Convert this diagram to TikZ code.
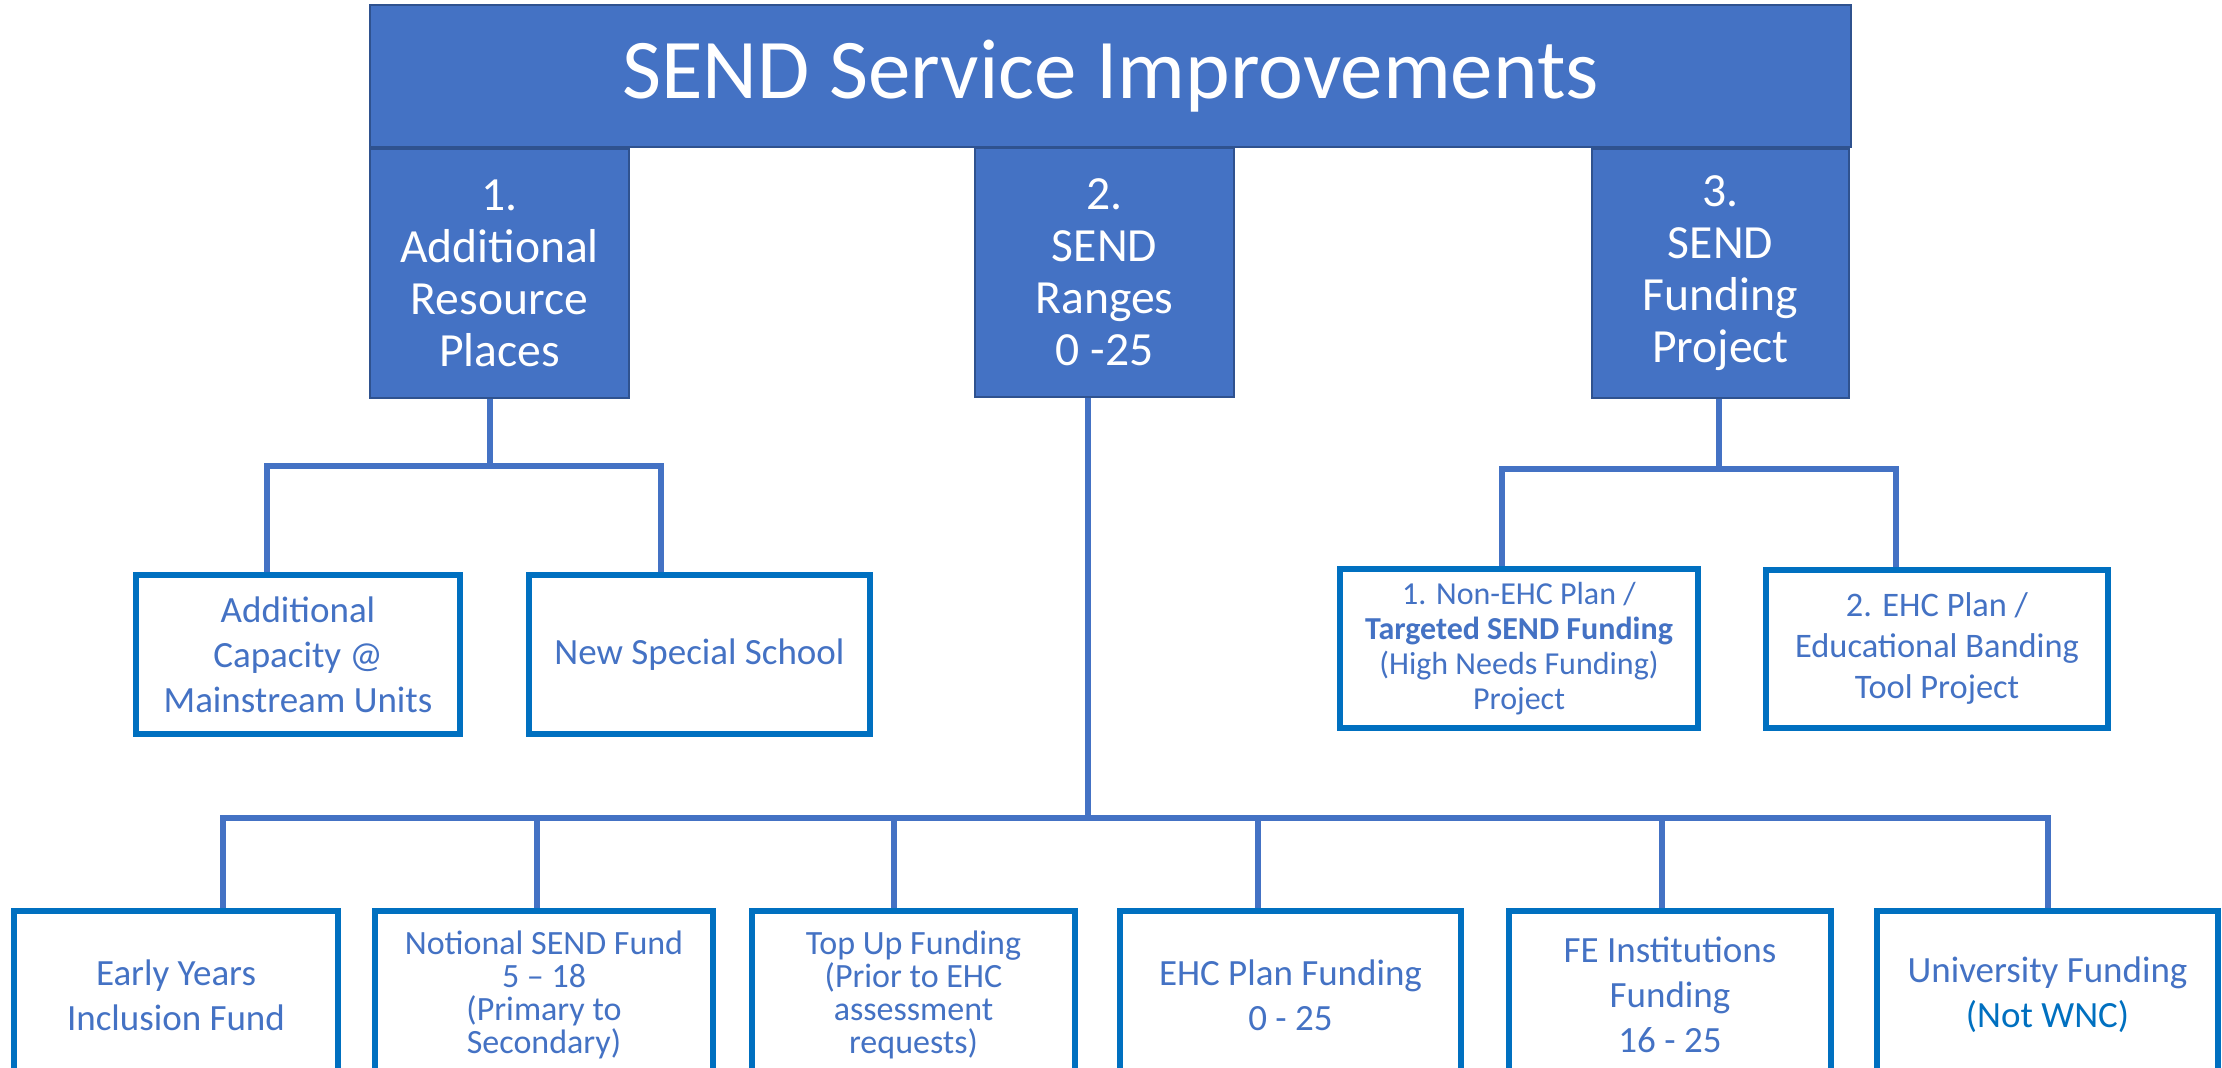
\documentclass[tikz,border=0pt]{standalone}
\usepackage{fontspec}
\setmainfont{Carlito}
\usetikzlibrary{backgrounds}
\definecolor{accent}{HTML}{4472C4}
\definecolor{accdark}{HTML}{2F528F}
\definecolor{boxblue}{HTML}{0070C0}
\begin{document}
\begin{tikzpicture}[x=0.5pt,y=-0.5pt,
  topbox/.style={draw=accdark, line width=1.2pt, fill=accent, text=white, align=center, inner sep=0pt},
  subbox/.style={draw=boxblue, line width=3pt, fill=white, text=accent, align=center, inner sep=0pt, line join=miter},
  conn/.style={draw=accent, line width=2.6pt},
  bigtxt/.style={font=\fontsize{23.8}{26}\selectfont},
  midtxt/.style={font=\fontsize{18.5}{22.5}\selectfont},
  tighttxt/.style={font=\fontsize{17}{16.5}\selectfont}]
\useasboundingbox (0,0) rectangle (2222,1068);

% top level
\node[topbox, minimum width=740.5pt, minimum height=71pt, font=\fontsize{42.5}{51}\selectfont] (title) at (1110.5,76) {SEND Service Improvements};
\node[topbox, bigtxt, minimum width=129.5pt, minimum height=124.5pt] (L1) at (499.5,273.5) {1.\\Additional\\Resource\\Places};
\node[topbox, bigtxt, minimum width=129.5pt, minimum height=124.5pt] (L2) at (1104.5,272.5) {2.\\SEND\\Ranges\\0 -25};
\node[topbox, bigtxt, minimum width=128.5pt, minimum height=124.5pt] (L3) at (1720.5,273.5) {3.\\SEND\\Funding\\Project};

% second level
\node[subbox, midtxt, minimum width=162pt, minimum height=79.5pt] (A) at (298,654.5) {Additional\\Capacity @\\Mainstream Units};
\node[subbox, midtxt, minimum width=170.5pt, minimum height=79.5pt] (B) at (699.5,654.5) {New Special School};
\node[subbox, font=\fontsize{16}{17.5}\selectfont, minimum width=179pt, minimum height=79.5pt] (N1) at (1519,648.5) {1. Non-EHC Plan /\\\textbf{Targeted SEND Funding}\\(High Needs Funding)\\Project};
\node[subbox, font=\fontsize{17.2}{20.5}\selectfont, minimum width=171pt, minimum height=79pt] (N2) at (1937,649) {2. EHC Plan /\\Educational Banding\\Tool Project};

% bottom level
\node[subbox, midtxt, minimum width=162pt, minimum height=84pt] (E1) at (176,995) {Early Years\\Inclusion Fund};
\node[subbox, tighttxt, minimum width=169pt, minimum height=84pt] (E2) at (544,995) {Notional SEND Fund\\5 – 18\\(Primary to\\Secondary)};
\node[subbox, tighttxt, minimum width=161.5pt, minimum height=84pt] (E3) at (913.5,995) {Top Up Funding\\(Prior to EHC\\assessment\\requests)};
\node[subbox, midtxt, minimum width=170.5pt, minimum height=84pt] (E4) at (1290.5,995) {EHC Plan Funding\\0 - 25};
\node[subbox, midtxt, minimum width=161pt, minimum height=84pt] (E5) at (1670,995) {FE Institutions\\Funding\\16 - 25};
\node[subbox, midtxt, minimum width=170.5pt, minimum height=84pt] (E6) at (2047.5,995) {University Funding\\\textcolor{boxblue}{(Not WNC)}};

% junction coordinates
\coordinate (j1) at (490,466);
\coordinate (j1a) at (267,466);
\coordinate (j1b) at (661,466);
\coordinate (j3) at (1719,469);
\coordinate (j3a) at (1502,469);
\coordinate (j3b) at (1896,469);
\coordinate (j2) at (1088,818);
\coordinate (b1) at (223,818);
\coordinate (b2) at (537,818);
\coordinate (b3) at (894,818);
\coordinate (b4) at (1258,818);
\coordinate (b5) at (1662,818);
\coordinate (b6) at (2048,818);

\begin{scope}[on background layer]
\draw[conn] (L1.south -| j1) -- (j1);
\draw[conn] (j1a |- A.north) -- (j1a) -- (j1b) -- (j1b |- B.north);
\draw[conn] (L3.south -| j3) -- (j3);
\draw[conn] (j3a |- N1.north) -- (j3a) -- (j3b) -- (j3b |- N2.north);
\draw[conn] (L2.south -| j2) -- (j2);
\draw[conn] (b1 |- E1.north) -- (b1) -- (b6) -- (b6 |- E6.north);
\draw[conn] (b2) -- (b2 |- E2.north);
\draw[conn] (b3) -- (b3 |- E3.north);
\draw[conn] (b4) -- (b4 |- E4.north);
\draw[conn] (b5) -- (b5 |- E5.north);
\end{scope}
\end{tikzpicture}
\end{document}
